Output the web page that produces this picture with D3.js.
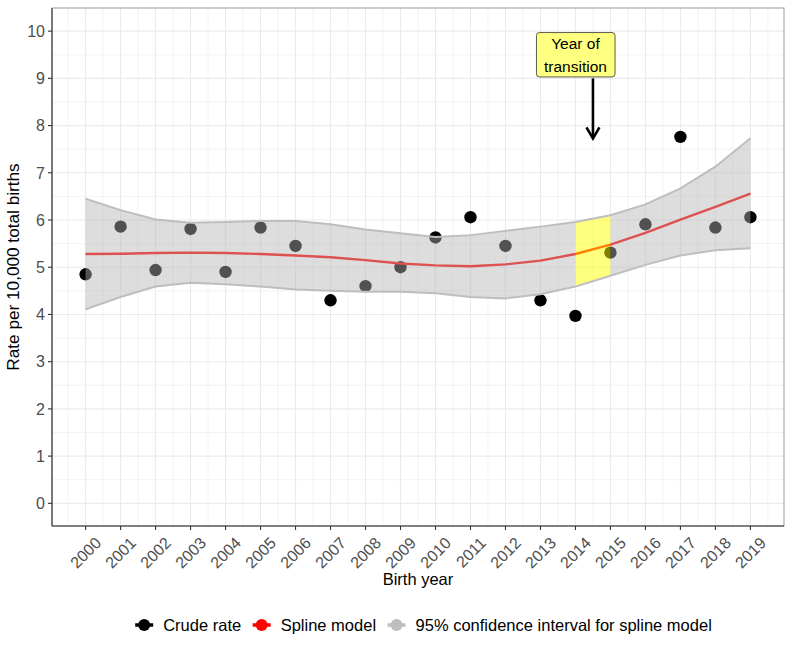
<!DOCTYPE html>
<html>
<head>
<meta charset="utf-8">
<script src="https://cdn.jsdelivr.net/npm/d3@7"></script>
<style>
  html, body { margin: 0; padding: 0; background: #fff; }
  svg { display: block; font-family: "Liberation Sans", Arial, sans-serif; }
</style>
</head>
<body>
<svg id="chart" width="792" height="652"></svg>
<script>
// ---- data ----
const years  = [2000,2001,2002,2003,2004,2005,2006,2007,2008,2009,2010,2011,2012,2013,2014,2015,2016,2017,2018,2019];
const crude  = [4.85,5.86,4.94,5.81,4.90,5.84,5.45,4.30,4.60,5.00,5.63,6.06,5.45,4.30,3.97,5.31,5.91,7.76,5.84,6.06];
const spline = [5.28,5.285,5.30,5.31,5.30,5.28,5.25,5.21,5.15,5.08,5.04,5.02,5.06,5.14,5.28,5.48,5.73,6.01,6.28,6.56];
const upper  = [6.45,6.21,6.01,5.94,5.96,5.98,5.98,5.91,5.80,5.72,5.64,5.68,5.77,5.86,5.96,6.10,6.33,6.67,7.13,7.73];
const lower  = [4.11,4.37,4.59,4.67,4.64,4.59,4.53,4.50,4.48,4.48,4.45,4.37,4.34,4.43,4.59,4.82,5.05,5.25,5.36,5.40];
const yTicks = [0,1,2,3,4,5,6,7,8,9,10];
const transitionStart = 2014, transitionEnd = 2015;
const annotationText = ["Year of", "transition"];
const annotationPos = {x: 2014, y: 9.5};
const arrowFrom = {x: 2014.5, y: 9.0}, arrowTo = {x: 2014.5, y: 7.73};
const legendItems = [
  {label: "Crude rate", color: "#000000"},
  {label: "Spline model", color: "#FF0000"},
  {label: "95% confidence interval for spline model", color: "#BEBEBE"}
];

const rows = years.map((yr, i) => ({year: yr, crude: crude[i], fit: spline[i], lo: lower[i], hi: upper[i]}));

const svg = d3.select("#chart");
const L = 52, R = 784, T = 8, B = 526;
const x = d3.scaleLinear().domain([1999.04, 2019.96]).range([L, R]);
const y = d3.scaleLinear().domain([-0.48, 10.49]).range([B, T]);

svg.append("defs").append("clipPath").attr("id", "panel")
  .append("rect").attr("x", L).attr("y", T).attr("width", R - L).attr("height", B - T);

const panel = svg.append("g").attr("clip-path", "url(#panel)");

// grid
const minorX = d3.range(1999.5, 2020, 1);
const minorY = d3.range(-0.5, 10.6, 1);
panel.selectAll(".mx").data(minorX).join("line")
  .attr("x1", d => x(d)).attr("x2", d => x(d)).attr("y1", T).attr("y2", B)
  .attr("stroke", "#EBEBEB").attr("stroke-width", 0.6);
panel.selectAll(".my").data(minorY).join("line")
  .attr("y1", d => y(d)).attr("y2", d => y(d)).attr("x1", L).attr("x2", R)
  .attr("stroke", "#EBEBEB").attr("stroke-width", 0.6);
panel.selectAll(".gx").data(years).join("line")
  .attr("x1", d => x(d)).attr("x2", d => x(d)).attr("y1", T).attr("y2", B)
  .attr("stroke", "#EBEBEB").attr("stroke-width", 1.1);
panel.selectAll(".gy").data(yTicks).join("line")
  .attr("y1", d => y(d)).attr("y2", d => y(d)).attr("x1", L).attr("x2", R)
  .attr("stroke", "#EBEBEB").attr("stroke-width", 1.1);

// points
panel.selectAll(".pt").data(rows).join("circle")
  .attr("cx", d => x(d.year)).attr("cy", d => y(d.crude)).attr("r", 6.2)
  .attr("fill", "#000");

// spline line
panel.append("path").datum(rows)
  .attr("d", d3.line().x(d => x(d.year)).y(d => y(d.fit)))
  .attr("fill", "none").attr("stroke", "#FF0000").attr("stroke-width", 2.4);

// CI ribbon (grey), excluding the transition span which is shown in yellow
const area = d3.area().x(d => x(d.year)).y0(d => y(d.lo)).y1(d => y(d.hi));
const before = rows.filter(d => d.year <= transitionStart);
const after = rows.filter(d => d.year >= transitionEnd);
const trans = rows.filter(d => d.year >= transitionStart && d.year <= transitionEnd);
[before, after].forEach(seg => {
  panel.append("path").datum(seg).attr("d", area)
    .attr("fill", "#B3B3B3").attr("fill-opacity", 0.45);
});
panel.append("path").datum(trans).attr("d", area)
  .attr("fill", "#FFFF00").attr("fill-opacity", 0.5);

// ribbon edges
panel.append("path").datum(rows)
  .attr("d", d3.line().x(d => x(d.year)).y(d => y(d.hi)))
  .attr("fill", "none").attr("stroke", "#BEBEBE").attr("stroke-width", 2);
panel.append("path").datum(rows)
  .attr("d", d3.line().x(d => x(d.year)).y(d => y(d.lo)))
  .attr("fill", "none").attr("stroke", "#BEBEBE").attr("stroke-width", 2);

// arrow
const ax = x(arrowFrom.x), ay1 = y(arrowFrom.y), ay2 = y(arrowTo.y);
panel.append("line").attr("x1", ax).attr("x2", ax).attr("y1", ay1).attr("y2", ay2 - 1)
  .attr("stroke", "#000").attr("stroke-width", 2.6);
panel.append("path")
  .attr("d", `M${ax - 6.5},${ay2 - 11} L${ax},${ay2} L${ax + 6.5},${ay2 - 11}`)
  .attr("fill", "none").attr("stroke", "#000").attr("stroke-width", 2.6)
  .attr("stroke-linejoin", "miter");

// annotation label
const lx = x(annotationPos.x), ly = y(annotationPos.y);
const lab = panel.append("g");
lab.append("rect").attr("x", lx - 39).attr("y", ly - 22.2).attr("width", 78.6).attr("height", 44.4)
  .attr("rx", 3).attr("ry", 3)
  .attr("fill", "#FFFF80").attr("stroke", "#333333").attr("stroke-width", 0.8);
annotationText.forEach((t, i) => {
  lab.append("text").attr("x", lx).attr("y", ly - 5.5 + i * 22.7)
    .attr("text-anchor", "middle").attr("font-size", 15.5).attr("fill", "#000").text(t);
});

// panel border
svg.append("rect").attr("x", L).attr("y", T).attr("width", R - L).attr("height", B - T)
  .attr("fill", "none").attr("stroke", "#9A9A9A").attr("stroke-width", 1);
svg.append("line").attr("x1", L).attr("x2", L).attr("y1", T).attr("y2", B)
  .attr("stroke", "#333333").attr("stroke-width", 1.1);
svg.append("line").attr("x1", L).attr("x2", R).attr("y1", B).attr("y2", B)
  .attr("stroke", "#333333").attr("stroke-width", 1.1);

// y axis
const yAxis = svg.append("g");
yTicks.forEach(t => {
  yAxis.append("line").attr("x1", L - 4).attr("x2", L).attr("y1", y(t)).attr("y2", y(t))
    .attr("stroke", "#333333").attr("stroke-width", 1.1);
  yAxis.append("text").attr("x", L - 7).attr("y", y(t)).attr("dy", "0.36em")
    .attr("text-anchor", "end").attr("font-size", 16).attr("fill", "#4D4D4D").text(t);
});

// x axis
const xAxis = svg.append("g");
years.forEach(yr => {
  xAxis.append("line").attr("x1", x(yr)).attr("x2", x(yr)).attr("y1", B).attr("y2", B + 4)
    .attr("stroke", "#333333").attr("stroke-width", 1.1);
  xAxis.append("text")
    .attr("transform", `translate(${x(yr) + 12.5},${B + 14}) rotate(-45)`)
    .attr("dy", "0.36em").attr("text-anchor", "end")
    .attr("font-size", 16).attr("fill", "#4D4D4D").text(yr);
});

// axis titles
svg.append("text").attr("x", (L + R) / 2).attr("y", 585).attr("text-anchor", "middle")
  .attr("font-size", 16.5).attr("fill", "#000").text("Birth year");
svg.append("text").attr("transform", `translate(19,${(T + B) / 2}) rotate(-90)`)
  .attr("text-anchor", "middle").attr("font-size", 17.2).attr("fill", "#000")
  .text("Rate per 10,000 total births");

// legend
const leg = svg.append("g");
const items = legendItems.map(d => {
  const g = leg.append("g");
  const t = g.append("text").attr("font-size", 16.5).attr("fill", "#000").text(d.label);
  return {d, g, t, w: t.node().getComputedTextLength()};
});
const keyW = 20, keyGap = 9, itemGap = 10.5;
const total = d3.sum(items, it => keyW + keyGap + it.w) + itemGap * (items.length - 1);
let cx = 423 - total / 2;
const ky = 625;
items.forEach(it => {
  it.g.append("line").attr("x1", cx + 1).attr("x2", cx + keyW - 1).attr("y1", ky).attr("y2", ky)
    .attr("stroke", it.d.color).attr("stroke-width", 3.5);
  it.g.append("circle").attr("cx", cx + keyW / 2).attr("cy", ky).attr("r", 6).attr("fill", it.d.color);
  it.t.attr("x", cx + keyW + keyGap).attr("y", ky + 6);
  cx += keyW + keyGap + it.w + itemGap;
});
</script>
</body>
</html>
